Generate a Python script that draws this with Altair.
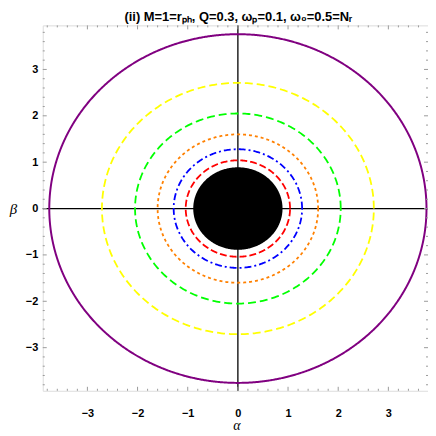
import altair as alt
import numpy as np
import pandas as pd

# ---- data ----
curve_names = ["purple", "yellow", "green", "orange", "blue", "red"]
curve_radii = [3.76, 2.71, 2.05, 1.60, 1.28, 1.04]
curve_colors = ["#800080", "#FFFF00", "#00FF00", "#FF8000", "#0000FF", "#FF0000"]
curve_dashes = [[1, 0], [8, 4], [8, 4], [3, 3], [7, 3, 2, 3], [7, 3]]
shadow_radius = 0.89

x_major = [-3, -2, -1, 0, 1, 2, 3]
y_major = [-3, -2, -1, 0, 1, 2, 3]
x_domain = [-3.89, 3.79]
y_domain = [-3.93, 3.95]
title_text = ["(ii) M=1=rₚₕ, Q=0.3, ωₚ=0.1, ω₀=0.5=Nᵣ"]

W, H = 388, 368
FONT = "Liberation Sans"

xs = alt.Scale(domain=x_domain, nice=False, zero=False)
ys = alt.Scale(domain=y_domain, nice=False, zero=False)
xaxis = alt.Axis(
    values=x_major, format="d", ticks=False, domain=False, grid=False,
    labelPadding=17, labelFont=FONT, labelFontWeight="bold", labelFontSize=11,
    labelColor="black", title="α", titleFont="Liberation Serif", titleFontStyle="italic",
    titleFontWeight="normal", titleFontSize=14, titleColor="black",
    titleX=W / 2 + 1, titleY=39.5, titleBaseline="alphabetic", titleAlign="center")
yaxis = alt.Axis(
    values=y_major, format="d", ticks=False, domain=False, grid=False,
    labelPadding=5, labelFont=FONT, labelFontWeight="bold", labelFontSize=11,
    labelColor="black", title="β", titleFont="Liberation Serif", titleFontStyle="italic",
    titleFontWeight="normal", titleFontSize=15, titleColor="black", titleAngle=0,
    titleX=-30, titleY=H / 2, titleBaseline="middle", titleAlign="center")

def X(f):
    return alt.X(f, scale=xs, axis=xaxis)

def Y(f):
    return alt.Y(f, scale=ys, axis=yaxis)

deg = np.arange(0, 361, 1.0)
origin = pd.DataFrame({"x": [0.0], "y": [0.0]})

layers = []

# black filled shadow disk
half = np.linspace(0, np.pi, 181)
disk = pd.DataFrame({
    "x": shadow_radius * np.cos(half),
    "y": shadow_radius * np.sin(half),
    "y2": -shadow_radius * np.sin(half),
})
layers.append(
    alt.Chart(disk).mark_area(color="black", opacity=1, orient="vertical").encode(
        x=X("x:Q"), y=Y("y:Q"), y2="y2:Q")
)

# axis cross lines
layers.append(alt.Chart(origin).mark_rule(color="black", strokeWidth=1.3).encode(x=X("x:Q")))
layers.append(alt.Chart(origin).mark_rule(color="black", strokeWidth=1.3).encode(y=Y("y:Q")))

# circles
for name, r, col, dash in zip(curve_names, curve_radii, curve_colors, curve_dashes):
    t = np.radians(deg)
    df = pd.DataFrame({"x": r * np.cos(t), "y": r * np.sin(t), "t": deg})
    layers.append(
        alt.Chart(df).mark_line(color=col, strokeWidth=2 if name == "purple" else 1.8,
                                strokeDash=dash).encode(
            x=X("x:Q"), y=Y("y:Q"), order="t:Q")
    )

# inward frame ticks
def tick_table(lo, hi):
    vals = [round(v, 1) for v in np.arange(-4.0, 4.01, 0.2) if lo <= v <= hi]
    return pd.DataFrame({"v": vals, "major": [abs(v - round(v)) < 1e-6 for v in vals]})

tx = tick_table(*x_domain)
ty = tick_table(*y_domain)
tick_col = "#9a9a9a"
for major, ln in [(True, 4), (False, 2)]:
    dx = tx[tx.major == major][["v"]]
    dy = ty[ty.major == major][["v"]]
    layers.append(alt.Chart(dx).mark_rule(color=tick_col, strokeWidth=1).encode(
        x=X("v:Q"), y=alt.value(H), y2=alt.value(H - ln)))
    layers.append(alt.Chart(dx).mark_rule(color=tick_col, strokeWidth=1).encode(
        x=X("v:Q"), y=alt.value(0), y2=alt.value(ln)))
    layers.append(alt.Chart(dy).mark_rule(color=tick_col, strokeWidth=1).encode(
        y=Y("v:Q"), x=alt.value(0), x2=alt.value(ln)))
    layers.append(alt.Chart(dy).mark_rule(color=tick_col, strokeWidth=1).encode(
        y=Y("v:Q"), x=alt.value(W), x2=alt.value(W - ln)))

# title as a text mark above the frame
layers.append(
    alt.Chart(pd.DataFrame({"t": title_text})).mark_text(
        font=FONT, fontSize=13, fontWeight="bold", color="black",
        align="center", baseline="alphabetic").encode(
        text="t:N", x=alt.value(W / 2 + 3), y=alt.value(-4))
)

chart = alt.layer(*layers).properties(
    width=W, height=H,
    autosize=alt.AutoSizeParams(type="none"),
    padding={"left": 35, "top": 16, "right": 0, "bottom": 40},
).configure_view(stroke=tick_col, strokeWidth=1).configure(background="white")

chart.save("out.html", embed_options={"renderer": "svg", "actions": False})
